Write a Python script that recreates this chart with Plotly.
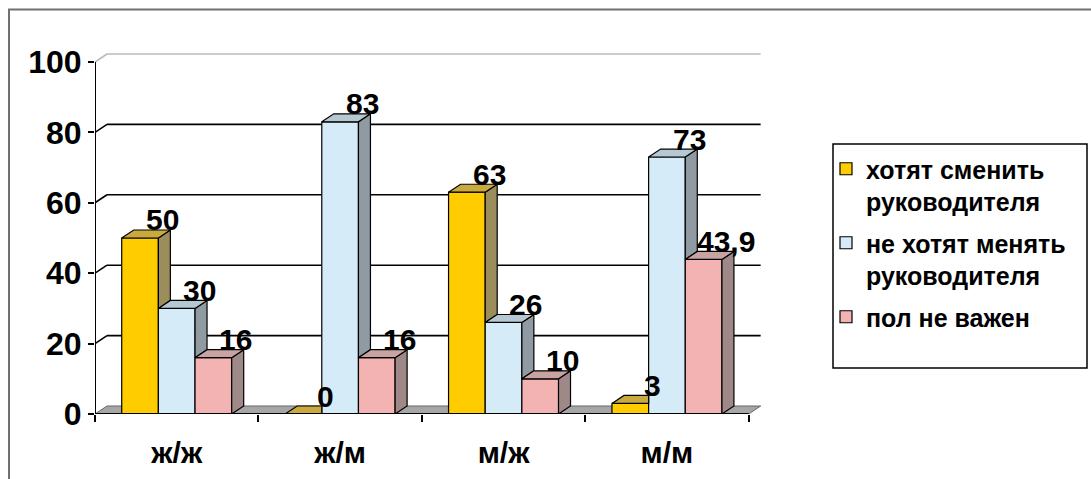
import plotly.graph_objects as go

# ---------------- data ----------------
categories = ["ж/ж", "ж/м", "м/ж", "м/м"]
series_names = ["хотят сменить<br>руководителя",
                "не хотят менять<br>руководителя",
                "пол не важен"]
want_change = [50, 0, 63, 3]
not_change = [30, 83, 26, 73]
gender_irrelevant = [16, 16, 10, 43.9]
y_ticks = [0, 20, 40, 60, 80, 100]

# ---------------- style ----------------
front_colors = ["#FFCC00", "#D6EBF8", "#F4B3B3"]
side_colors = ["#9C8D5D", "#8F9AA2", "#9E8888"]
top_colors = ["#C9AA40", "#B6C8D2", "#C9A2A2"]
FONT = "Liberation Sans, Arial, sans-serif"

series = [want_change, not_change, gender_irrelevant]
n_cat = len(categories)
GROUP = 0.673            # fraction of a category used by the three bars
W = GROUP / len(series)  # bar width (x units)
DX = 0.0734              # depth offset in x units
DY = 2.27                # depth offset in y units

# figure geometry (pixels)
FW, FH = 1091, 479
ML, MR, MT, MB = 95, 326, 50, 65
PW, PH = FW - ML - MR, FH - MT - MB
X_RANGE = [-0.5, n_cat - 0.5 + 0.1]
Y_RANGE = [0, 103.4]


def px_x(px):
    return (px - ML) / PW


def px_y(py):
    return (FH - MB - py) / PH


def fmt(v):
    return (f"{v:g}").replace(".", ",")


fig = go.Figure()

# front faces (real bars)
for i, vals in enumerate(series):
    xs = [j - GROUP / 2 + W * (i + 0.5) for j in range(n_cat)]
    fig.add_trace(go.Bar(
        x=xs, y=vals, width=W, name=series_names[i], legendgroup=f"g{i}",
        marker=dict(color=front_colors[i], line=dict(color="black", width=1.2)),
        hoverinfo="skip",
    ))

# side and top faces (3D look), computed from the same values
for i, vals in enumerate(series):
    sx, sy, tx, ty = [], [], [], []
    for j in range(n_cat):
        xc = j - GROUP / 2 + W * (i + 0.5)
        xl, xr = xc - W / 2, xc + W / 2
        v = vals[j]
        nxt = series[i + 1][j] if i + 1 < len(series) else None
        low = nxt if nxt is not None else 0
        if v > low:
            sx += [xr, xr + DX, xr + DX, xr, xr, None]
            sy += [low, low + DY, v + DY, v, low, None]
        if nxt is not None and nxt > v:
            tx += [xl, xr, xr, xl + DX, xl, None]
            ty += [v, v, v + DY, v + DY, v, None]
        else:
            tx += [xl, xr, xr + DX, xl + DX, xl, None]
            ty += [v, v, v + DY, v + DY, v, None]
    fig.add_trace(go.Scatter(x=sx, y=sy, mode="lines", fill="toself",
                             fillcolor=side_colors[i],
                             line=dict(color="black", width=1.2),
                             showlegend=False, hoverinfo="skip"))
    fig.add_trace(go.Scatter(x=tx, y=ty, mode="lines", fill="toself",
                             fillcolor=top_colors[i],
                             line=dict(color="black", width=1.2),
                             showlegend=False, hoverinfo="skip"))

shapes = []
x0, x1 = -0.5, n_cat - 0.5
# floor
shapes.append(dict(type="path", layer="below", xref="x", yref="y",
                   path=f"M{x0},0 L{x1},0 L{x1 + DX},{DY} L{x0 + DX},{DY} Z",
                   fillcolor="#A6A6A6", line=dict(color="#666666", width=1)))
# back-wall gridlines + connectors
for t in y_ticks[1:]:
    col = "#BBBBBB" if t == y_ticks[-1] else "black"
    shapes.append(dict(type="line", layer="below", xref="x", yref="y",
                       x0=x0 + DX, x1=x1 + DX, y0=t + DY, y1=t + DY,
                       line=dict(color=col, width=1.6)))
    shapes.append(dict(type="line", layer="below", xref="x", yref="y",
                       x0=x0, x1=x0 + DX, y0=t, y1=t + DY,
                       line=dict(color=col, width=1.6)))
# axis lines
shapes.append(dict(type="line", xref="x", yref="y", x0=x0, x1=x0,
                   y0=0, y1=y_ticks[-1], line=dict(color="black", width=2)))
shapes.append(dict(type="line", xref="x", yref="y", x0=x0, x1=x1,
                   y0=0, y1=0, line=dict(color="black", width=2)))
# outer frame
shapes.append(dict(type="rect", xref="paper", yref="paper",
                   x0=px_x(9), x1=px_x(1110), y0=px_y(9.5), y1=px_y(500),
                   line=dict(color="#707070", width=2)))
# legend box
shapes.append(dict(type="rect", xref="paper", yref="paper",
                   x0=px_x(833), x1=px_x(1087), y0=px_y(144), y1=px_y(368),
                   line=dict(color="black", width=1.5), fillcolor="rgba(0,0,0,0)"))

# data labels
annotations = []
for i, vals in enumerate(series):
    for j in range(n_cat):
        xr = j - GROUP / 2 + W * (i + 1)
        annotations.append(dict(
            x=xr, y=vals[j], xref="x", yref="y", text=fmt(vals[j]),
            showarrow=False, xshift=4, yshift=18,
            xanchor="center", yanchor="middle",
            font=dict(family=FONT, size=30, color="black", weight="bold")))

fig.update_layout(
    width=FW, height=FH,
    margin=dict(l=ML, r=MR, t=MT, b=MB, autoexpand=False),
    paper_bgcolor="white", plot_bgcolor="white",
    barmode="overlay",
    showlegend=True,
    legend=dict(x=px_x(826), y=px_y(146), xanchor="left", yanchor="top",
                bgcolor="rgba(0,0,0,0)", borderwidth=0, valign="top",
                font=dict(family=FONT, size=25, color="black", weight="bold"),
                traceorder="grouped", tracegroupgap=6),
    shapes=shapes,
    annotations=annotations,
    xaxis=dict(range=X_RANGE, tickmode="array", tickvals=list(range(n_cat)),
               ticktext=categories, ticks="", showgrid=False, zeroline=False,
               showline=False, ticklabelstandoff=18, automargin=False,
               tickfont=dict(family=FONT, size=30, color="black", weight="bold"),
               minor=dict(tickmode="array",
                          tickvals=[k - 0.5 for k in range(n_cat + 1)],
                          ticks="outside", ticklen=7, tickwidth=2,
                          tickcolor="black", showgrid=False)),
    yaxis=dict(range=Y_RANGE, tickmode="array", tickvals=y_ticks,
               ticks="outside", ticklen=6, tickwidth=2, tickcolor="black",
               showgrid=False, zeroline=False, showline=False, automargin=False,
               tickfont=dict(family=FONT, size=32, color="black", weight="bold")),
)

fig.write_html("out.html")
